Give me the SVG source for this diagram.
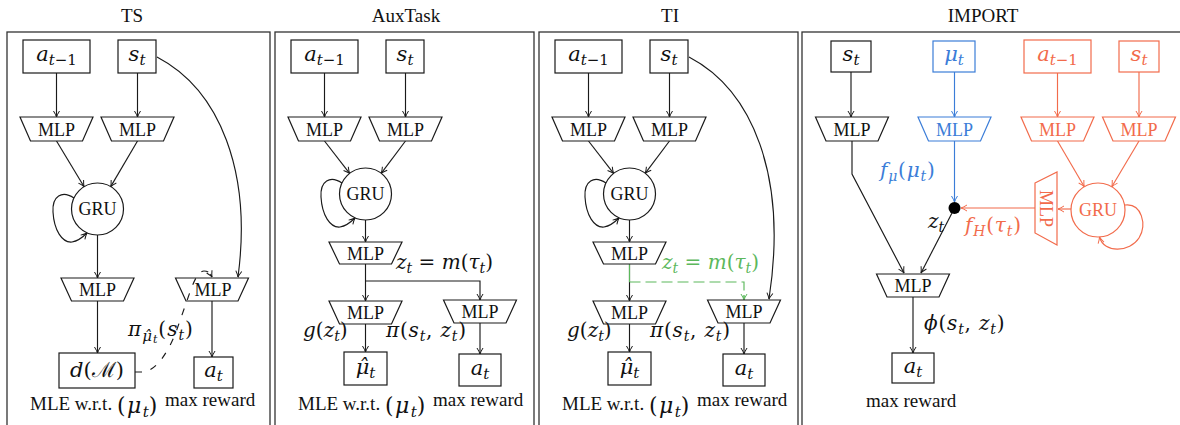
<svg xmlns="http://www.w3.org/2000/svg" width="1180" height="425" viewBox="0 0 1180 425">
<style>
.fr{fill:none;stroke:#333;stroke-width:1.3}
.bx{fill:#fff;stroke:#1a1a1a;stroke-width:1.2}
.ln{fill:none;stroke:#1a1a1a;stroke-width:1.15}
.ar{marker-end:url(#ak)}
.tx{font-family:"Liberation Serif","Times New Roman",serif;fill:#111}
.t16{font-size:18px;text-anchor:middle}
.tt{font-size:19px;text-anchor:middle}
.cap{font-size:19px}
.mm{font-family:"DejaVu Serif",serif;font-style:italic;fill:#111}
.mb{font-size:21px;text-anchor:middle}
.sb{font-size:15px}
.ml{font-size:20px}
.sl{font-size:14px}
.up{font-style:normal}
.cm{font-family:"DejaVu Serif",serif;font-size:22px;letter-spacing:1.5px}
.dsh{stroke-dasharray:7 9}
.bl{stroke:#3b7dd8}
.or{stroke:#f26b4b}
.gr{stroke:#5cb85c}
.arb{marker-end:url(#akb)}
.aro{marker-end:url(#ako)}
.arg{marker-end:url(#akg)}
</style>
<defs>
<marker id="ak" viewBox="0 0 8 8" refX="7.5" refY="4" markerWidth="8" markerHeight="8" markerUnits="userSpaceOnUse" orient="auto"><path d="M1.5,1 Q5,3.2 7.5,4 Q5,4.8 1.5,7" fill="none" stroke="#1a1a1a" stroke-width="1"/></marker>
<marker id="akb" viewBox="0 0 8 8" refX="7.5" refY="4" markerWidth="8" markerHeight="8" markerUnits="userSpaceOnUse" orient="auto"><path d="M1.5,1 Q5,3.2 7.5,4 Q5,4.8 1.5,7" fill="none" stroke="#3b7dd8" stroke-width="1"/></marker>
<marker id="ako" viewBox="0 0 8 8" refX="7.5" refY="4" markerWidth="8" markerHeight="8" markerUnits="userSpaceOnUse" orient="auto"><path d="M1.5,1 Q5,3.2 7.5,4 Q5,4.8 1.5,7" fill="none" stroke="#f26b4b" stroke-width="1"/></marker>
<marker id="akg" viewBox="0 0 8 8" refX="7.5" refY="4" markerWidth="8" markerHeight="8" markerUnits="userSpaceOnUse" orient="auto"><path d="M1.5,1 Q5,3.2 7.5,4 Q5,4.8 1.5,7" fill="none" stroke="#5cb85c" stroke-width="1"/></marker>
</defs>
<rect width="1180" height="425" fill="#fff"/>

<!-- ===== Panel TS ===== -->
<g id="ts-frame"><rect class="fr" x="7" y="32" width="263" height="410"/><text class="tx tt" x="132" y="22">TS</text></g>
<g id="ts-edges">
<path class="ln ar" d="M56.5,73V117"/>
<path class="ln ar" d="M137.5,73V117"/>
<path class="ln ar" d="M56.5,141L84.1,186.7"/>
<path class="ln ar" d="M137.5,141L110.7,186.6"/>
<path class="ln ar" d="M74,198C62,190 52,196 53,212C54,230 62,243 72,242C78,241 83,237 87,233"/>
<path class="ln ar" d="M97.5,235V278"/>
<path class="ln ar" d="M97.5,301V353"/>
<path class="ln ar" d="M212,301V357"/>
<path class="ln ar" d="M157,57C220,90 252,172 238,277"/>
<path class="ln dsh" d="M135,372L145,372C158,368 168,352 176,332L190,292C195,278 199,271 204,271C208,271 210,273 211,275"/>
<path class="ln ar" d="M210.5,274L212,277"/>
</g>
<g id="ts-a"><rect class="bx" x="23" y="40" width="67" height="33"/><text class="mm mb" x="56.5" y="61">a<tspan class="sb" dy="4">t<tspan class="up">−1</tspan></tspan></text></g>
<g id="ts-s"><rect class="bx" x="118" y="40" width="38" height="33"/><text class="mm mb" x="137" y="61">s<tspan class="sb" dy="4">t</tspan></text></g>
<g id="ts-mlp1"><polygon class="bx" points="20,117 93,117 82.5,141 30.5,141"/><text class="tx t16" x="56.5" y="135.5">MLP</text></g>
<g id="ts-mlp2"><polygon class="bx" points="101,117 174,117 163.5,141 111.5,141"/><text class="tx t16" x="137.5" y="135.5">MLP</text></g>
<g id="ts-gru"><circle class="bx" cx="97.5" cy="209" r="26"/><text class="tx t16" x="97.5" y="215">GRU</text></g>
<g id="ts-mlp3"><polygon class="bx" points="61,278 134,278 123.5,301 71.5,301"/><text class="tx t16" x="97.5" y="295.5">MLP</text></g>
<g id="ts-mlp4"><polygon class="bx" points="175.5,278 248.5,278 238,301 186,301" fill-opacity="0"/><text class="tx t16" x="213" y="295.5">MLP</text></g>
<g id="ts-dm"><rect class="bx" x="59" y="353" width="76" height="35"/><text class="mm mb" x="97" y="377">d<tspan class="up">(</tspan><tspan class="up">ℳ</tspan><tspan class="up">)</tspan></text></g>
<g id="ts-at"><rect class="bx" x="194" y="357" width="39" height="31"/><text class="mm mb" x="213.5" y="377">a<tspan class="sb" dy="4">t</tspan></text></g>
<g id="ts-labels">
<text class="mm ml" x="128" y="336" style="letter-spacing:1px">π<tspan font-size="15" dy="5">μ̂</tspan><tspan font-size="11" dy="2">t</tspan><tspan class="up" dy="-7">(</tspan>s<tspan class="sl" dy="4">t</tspan><tspan class="up" dy="-4">)</tspan></text>
<text class="tx cap" x="30" y="410">MLE w.r.t. <tspan class="cm" dy="3">(</tspan><tspan class="cm" font-style="italic">μ</tspan><tspan class="mm" font-size="15" dy="4">t</tspan><tspan class="cm" dy="-4">)</tspan></text>
<text class="tx cap" x="165" y="406">max reward</text>
</g>

<!-- ===== Panel AuxTask ===== -->
<g id="aux-frame"><rect class="fr" x="275" y="32" width="259" height="410"/><text class="tx tt" x="406" y="22">AuxTask</text></g>
<g id="aux-edges">
<path class="ln ar" d="M324.5,73V117"/>
<path class="ln ar" d="M405.5,73V117"/>
<path class="ln ar" d="M324.5,141L349.6,173.4"/>
<path class="ln ar" d="M405.5,141L381.2,173.3"/>
<path class="ln ar" d="M342,183C330,175 320,181 321,197C322,215 330,228 340,227C346,226 351,222 355,218"/>
<path class="ln ar" d="M365.5,220V242"/>
<path class="ln ar" d="M365.5,264V301"/>
<path class="ln ar" d="M365.5,281H480V300"/>
<path class="ln ar" d="M365.5,324V352"/>
<path class="ln ar" d="M480,323V354"/>
</g>
<g id="aux-a"><rect class="bx" x="291" y="40" width="67" height="33"/><text class="mm mb" x="324.5" y="61">a<tspan class="sb" dy="4">t<tspan class="up">−1</tspan></tspan></text></g>
<g id="aux-s"><rect class="bx" x="386" y="40" width="38" height="33"/><text class="mm mb" x="405" y="61">s<tspan class="sb" dy="4">t</tspan></text></g>
<g id="aux-mlp1"><polygon class="bx" points="288,117 361,117 350.5,141 298.5,141"/><text class="tx t16" x="324.5" y="135.5">MLP</text></g>
<g id="aux-mlp2"><polygon class="bx" points="369,117 442,117 431.5,141 379.5,141"/><text class="tx t16" x="405.5" y="135.5">MLP</text></g>
<g id="aux-gru"><circle class="bx" cx="365.5" cy="194" r="26"/><text class="tx t16" x="365.5" y="200">GRU</text></g>
<g id="aux-mlpz"><polygon class="bx" points="329,242 402,242 391.5,264 339.5,264"/><text class="tx t16" x="365.5" y="259.5">MLP</text></g>
<g id="aux-mlpg"><polygon class="bx" points="329,301 402,301 391.5,324 339.5,324"/><text class="tx t16" x="365.5" y="318.5">MLP</text></g>
<g id="aux-mlppi"><polygon class="bx" points="443.5,300 516.5,300 506,323 454,323"/><text class="tx t16" x="480" y="317.5">MLP</text></g>
<g id="aux-mu"><rect class="bx" x="344" y="352" width="43" height="33"/><text class="mm mb" x="365.5" y="374">μ̂<tspan class="sb" dy="4">t</tspan></text></g>
<g id="aux-at"><rect class="bx" x="459" y="354" width="42" height="32"/><text class="mm mb" x="480" y="375">a<tspan class="sb" dy="4">t</tspan></text></g>
<g id="aux-labels">
<text class="mm ml" x="396" y="269">z<tspan class="sl" dy="4">t</tspan><tspan class="up" dy="-4"> = </tspan>m<tspan class="up">(</tspan>τ<tspan class="sl" dy="4">t</tspan><tspan class="up" dy="-4">)</tspan></text>
<text class="mm ml" x="303" y="337">g<tspan class="up">(</tspan>z<tspan class="sl" dy="4">t</tspan><tspan class="up" dy="-4">)</tspan></text>
<text class="mm ml" x="386" y="337" style="letter-spacing:0.8px">π<tspan class="up">(</tspan>s<tspan class="sl" dy="4">t</tspan><tspan class="up" dy="-4">, </tspan>z<tspan class="sl" dy="4">t</tspan><tspan class="up" dy="-4">)</tspan></text>
<text class="tx cap" x="298" y="410">MLE w.r.t. <tspan class="cm" dy="3">(</tspan><tspan class="cm" font-style="italic">μ</tspan><tspan class="mm" font-size="15" dy="4">t</tspan><tspan class="cm" dy="-4">)</tspan></text>
<text class="tx cap" x="433" y="406">max reward</text>
</g>

<!-- ===== Panel TI ===== -->
<g id="ti-frame"><rect class="fr" x="539" y="32" width="259" height="410"/><text class="tx tt" x="670" y="22">TI</text></g>
<g id="ti-edges">
<path class="ln ar" d="M588.5,73V117"/>
<path class="ln ar" d="M669.5,73V117"/>
<path class="ln ar" d="M588.5,141L613.6,173.4"/>
<path class="ln ar" d="M669.5,141L645.2,173.3"/>
<path class="ln ar" d="M606,183C594,175 584,181 585,197C586,215 594,228 604,227C610,226 615,222 619,218"/>
<path class="ln ar" d="M629.5,220V242"/>
<path class="ln ar" d="M629.5,264V301"/>
<path class="ln gr" d="M629.5,264V282"/>
<path class="ln gr" stroke-dasharray="11 5" d="M629.5,282H744V298"/>
<path class="ln gr arg" d="M744,295V300"/>
<path class="ln ar" d="M689,57C752,90 788,175 769,299"/>
<path class="ln ar" d="M629.5,324V352"/>
<path class="ln ar" d="M744,323V354"/>
</g>
<g id="ti-a"><rect class="bx" x="555" y="40" width="67" height="33"/><text class="mm mb" x="588.5" y="61">a<tspan class="sb" dy="4">t<tspan class="up">−1</tspan></tspan></text></g>
<g id="ti-s"><rect class="bx" x="650" y="40" width="38" height="33"/><text class="mm mb" x="669" y="61">s<tspan class="sb" dy="4">t</tspan></text></g>
<g id="ti-mlp1"><polygon class="bx" points="552,117 625,117 614.5,141 562.5,141"/><text class="tx t16" x="588.5" y="135.5">MLP</text></g>
<g id="ti-mlp2"><polygon class="bx" points="633,117 706,117 695.5,141 643.5,141"/><text class="tx t16" x="669.5" y="135.5">MLP</text></g>
<g id="ti-gru"><circle class="bx" cx="629.5" cy="194" r="26"/><text class="tx t16" x="629.5" y="200">GRU</text></g>
<g id="ti-mlpz"><polygon class="bx" points="593,242 666,242 655.5,264 603.5,264"/><text class="tx t16" x="629.5" y="259.5">MLP</text></g>
<g id="ti-mlpg"><polygon class="bx" points="593,301 666,301 655.5,324 603.5,324"/><text class="tx t16" x="629.5" y="318.5">MLP</text></g>
<g id="ti-mlppi"><polygon class="bx" points="707.5,300 780.5,300 770,323 718,323"/><text class="tx t16" x="744" y="317.5">MLP</text></g>
<g id="ti-mu"><rect class="bx" x="608" y="352" width="43" height="33"/><text class="mm mb" x="629.5" y="374">μ̂<tspan class="sb" dy="4">t</tspan></text></g>
<g id="ti-at"><rect class="bx" x="723" y="354" width="42" height="32"/><text class="mm mb" x="744" y="375">a<tspan class="sb" dy="4">t</tspan></text></g>
<g id="ti-labels">
<text class="mm ml" x="662" y="269" style="fill:#5cb85c">z<tspan class="sl" dy="4">t</tspan><tspan class="up" dy="-4"> = </tspan>m<tspan class="up">(</tspan>τ<tspan class="sl" dy="4">t</tspan><tspan class="up" dy="-4">)</tspan></text>
<text class="mm ml" x="567" y="337">g<tspan class="up">(</tspan>z<tspan class="sl" dy="4">t</tspan><tspan class="up" dy="-4">)</tspan></text>
<text class="mm ml" x="650" y="337" style="letter-spacing:0.8px">π<tspan class="up">(</tspan>s<tspan class="sl" dy="4">t</tspan><tspan class="up" dy="-4">, </tspan>z<tspan class="sl" dy="4">t</tspan><tspan class="up" dy="-4">)</tspan></text>
<text class="tx cap" x="562" y="410">MLE w.r.t. <tspan class="cm" dy="3">(</tspan><tspan class="cm" font-style="italic">μ</tspan><tspan class="mm" font-size="15" dy="4">t</tspan><tspan class="cm" dy="-4">)</tspan></text>
<text class="tx cap" x="697" y="406">max reward</text>
</g>

<!-- ===== Panel IMPORT ===== -->
<g id="imp-frame"><rect class="fr" x="802" y="32" width="400" height="410"/><text class="tx tt" x="983" y="22">IMPORT</text></g>
<g id="imp-edges">
<path class="ln ar" d="M851,72V117"/>
<path class="ln bl arb" d="M954.5,72V117"/>
<path class="ln or aro" d="M1057.5,73V117"/>
<path class="ln or aro" d="M1139,72V117"/>
<path class="ln ar" d="M852,141V174L904,273"/>
<path class="ln bl arb" d="M954.5,141V202"/>
<path class="ln or aro" d="M1057.5,141L1084.3,186.7"/>
<path class="ln or aro" d="M1139,141L1111.8,186.8"/>
<path class="ln or aro" d="M1125,205C1142,203 1147,225 1139,238C1130,252 1104,254 1099.5,237"/>
<path class="ln or aro" d="M1071,209H1058"/>
<path class="ln or aro" d="M1035,208H961"/>
<path class="ln ar" d="M952,213L921,273"/>
<path class="ln ar" d="M913,297V353"/>
</g>
<g id="imp-s"><rect class="bx" x="831" y="41" width="40" height="31"/><text class="mm mb" x="851" y="61">s<tspan class="sb" dy="4">t</tspan></text></g>
<g id="imp-mu"><rect class="bx bl" x="933" y="41" width="42" height="31"/><text class="mm mb" x="954" y="61" style="fill:#3b7dd8">μ<tspan class="sb" dy="4">t</tspan></text></g>
<g id="imp-a"><rect class="bx or" x="1024" y="40" width="67" height="33"/><text class="mm mb" x="1057.5" y="61" style="fill:#f26b4b">a<tspan class="sb" dy="4">t<tspan class="up">−1</tspan></tspan></text></g>
<g id="imp-s2"><rect class="bx or" x="1119" y="41" width="40" height="31"/><text class="mm mb" x="1139" y="61" style="fill:#f26b4b">s<tspan class="sb" dy="4">t</tspan></text></g>
<g id="imp-mlp1"><polygon class="bx" points="815.5,117 888.5,117 878,141 826,141"/><text class="tx t16" x="852" y="135.5">MLP</text></g>
<g id="imp-mlp2"><polygon class="bx bl" points="918,117 991,117 980.5,141 928.5,141"/><text class="tx t16" x="954.5" y="135.5" style="fill:#3b7dd8">MLP</text></g>
<g id="imp-mlp3"><polygon class="bx or" points="1021,117 1094,117 1083.5,141 1031.5,141"/><text class="tx t16" x="1057.5" y="135.5" style="fill:#f26b4b">MLP</text></g>
<g id="imp-mlp4"><polygon class="bx or" points="1102.5,117 1175.5,117 1165,141 1113,141"/><text class="tx t16" x="1139" y="135.5" style="fill:#f26b4b">MLP</text></g>
<g id="imp-gru"><circle class="bx or" cx="1098" cy="210" r="27"/><text class="tx t16" x="1098" y="216" style="fill:#f26b4b">GRU</text></g>
<g id="imp-mlph"><polygon class="bx or" points="1035,183 1057,172 1057,245 1035,233"/><text class="tx t16" transform="translate(1046,208.5) rotate(90)" y="6" style="fill:#f26b4b">MLP</text></g>
<g id="imp-dot"><circle cx="954.5" cy="208" r="6" fill="#000"/></g>
<g id="imp-mlp5"><polygon class="bx" points="876.5,274 949.5,274 939,297 887,297" fill-opacity="0"/><text class="tx t16" x="913" y="291.5">MLP</text></g>
<g id="imp-at"><rect class="bx" x="892" y="353" width="42" height="30"/><text class="mm mb" x="913" y="373">a<tspan class="sb" dy="4">t</tspan></text></g>
<g id="imp-labels">
<text class="mm ml" x="880" y="177" style="fill:#3b7dd8;letter-spacing:0.8px">f<tspan class="sl" dy="4">μ</tspan><tspan class="up" dy="-4">(</tspan>μ<tspan class="sl" dy="4">t</tspan><tspan class="up" dy="-4">)</tspan></text>
<text class="mm ml" x="965" y="232" style="fill:#f26b4b;letter-spacing:0.8px">f<tspan class="sl" dy="4">H</tspan><tspan class="up" dy="-4">(</tspan>τ<tspan class="sl" dy="4">t</tspan><tspan class="up" dy="-4">)</tspan></text>
<text class="mm ml" x="928" y="228">z<tspan class="sl" dy="4">t</tspan></text>
<text class="mm ml" x="924" y="330" style="letter-spacing:0.8px">ϕ<tspan class="up">(</tspan>s<tspan class="sl" dy="4">t</tspan><tspan class="up" dy="-4">, </tspan>z<tspan class="sl" dy="4">t</tspan><tspan class="up" dy="-4">)</tspan></text>
<text class="tx cap" x="866" y="407">max reward</text>
</g>
</svg>
